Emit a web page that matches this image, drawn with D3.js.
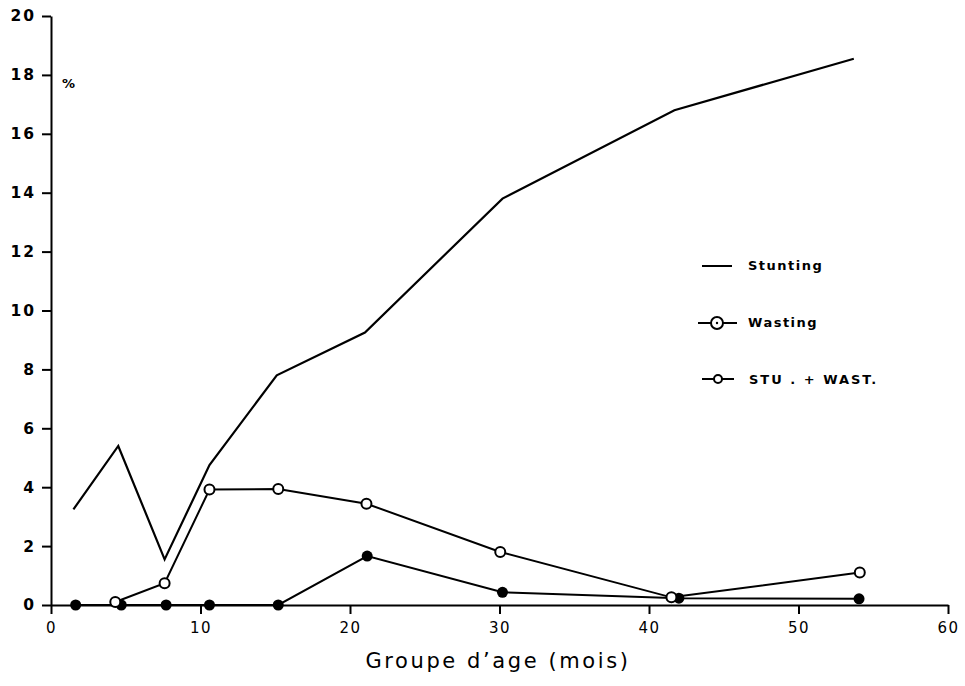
<!DOCTYPE html>
<html>
<head>
<meta charset="utf-8">
<script src="https://cdn.jsdelivr.net/npm/d3@7"></script>
<style>
  html, body { margin: 0; padding: 0; background: #fff; }
  svg { display: block; }
</style>
</head>
<body>
<svg id="chart" width="965" height="686"></svg>
<script>
// ---- data ----
const xTicks = [0, 10, 20, 30, 40, 50, 60];
const yTicks = [0, 2, 4, 6, 8, 10, 12, 14, 16, 18, 20];

const stuntingAge = [1.5, 4.5, 7.6, 10.6, 15.1, 21.0, 30.2, 41.7, 53.7];
const stuntingPct = [3.25, 5.4, 1.55, 4.75, 7.8, 9.25, 13.8, 16.8, 18.55];

const wastingAge = [4.3, 7.6, 10.6, 15.2, 21.1, 30.05, 41.5, 54.1];
const wastingPct = [0.1, 0.74, 3.92, 3.94, 3.44, 1.8, 0.26, 1.1];

const bothAge = [1.65, 4.7, 7.7, 10.6, 15.2, 21.15, 30.2, 42.0, 54.05];
const bothPct = [0, 0, 0, 0, 0, 1.66, 0.43, 0.23, 0.21];

const legendLabels = ["Stunting", "Wasting", "STU . + WAST."];
const xTitle = "Groupe d\u2019age (mois)";
const yUnit = "%";

// ---- drawing ----
const svg = d3.select("#chart");
const x = d3.scaleLinear().domain([0, 60]).range([51, 948]);
const y = d3.scaleLinear().domain([0, 20]).range([605, 16]);

const font = "'DejaVu Sans', 'Liberation Sans', sans-serif";

// X axis
const gx = svg.append("g").attr("transform", `translate(0,${y(0)})`)
  .call(d3.axisBottom(x).tickValues(xTicks).tickSize(9).tickSizeOuter(0).tickPadding(8));
gx.select(".domain").attr("stroke", "#000").attr("stroke-width", 2);
gx.selectAll(".tick line").attr("stroke", "#000").attr("stroke-width", 2);
gx.selectAll(".tick text").attr("font-family", font).attr("font-size", 15)
  .attr("fill", "#000").attr("letter-spacing", 1.5).attr("dy", "0.75em");

// Y axis
const gy = svg.append("g").attr("transform", `translate(${x(0)},0)`)
  .call(d3.axisLeft(y).tickValues(yTicks).tickSize(9).tickSizeOuter(0).tickPadding(6));
gy.select(".domain").attr("stroke", "#000").attr("stroke-width", 2);
gy.selectAll(".tick line").attr("stroke", "#000").attr("stroke-width", 2);
gy.selectAll(".tick text").attr("font-family", font).attr("font-size", 15.5)
  .attr("font-weight", "bold").attr("fill", "#000").attr("letter-spacing", 2);

// % label
svg.append("text").attr("x", 62).attr("y", 88)
  .attr("font-family", font).attr("font-size", 13).attr("font-weight", "bold")
  .text(yUnit);

// X title
svg.append("text").attr("x", 498).attr("y", 668).attr("text-anchor", "middle")
  .attr("font-family", font).attr("font-size", 21).attr("letter-spacing", 2.6)
  .text(xTitle);

const line = d3.line().x(d => x(d[0])).y(d => y(d[1]));
const stunting = stuntingAge.map((a, i) => [a, stuntingPct[i]]);
const wasting = wastingAge.map((a, i) => [a, wastingPct[i]]);
const both = bothAge.map((a, i) => [a, bothPct[i]]);

svg.append("path").datum(stunting).attr("d", line)
  .attr("fill", "none").attr("stroke", "#000").attr("stroke-width", 2.2)
  .attr("stroke-linejoin", "miter");

svg.append("path").datum(both).attr("d", line)
  .attr("fill", "none").attr("stroke", "#000").attr("stroke-width", 2);

svg.append("path").datum(wasting).attr("d", line)
  .attr("fill", "none").attr("stroke", "#000").attr("stroke-width", 2);

svg.selectAll("circle.both").data(both).join("circle").attr("class", "both")
  .attr("cx", d => x(d[0])).attr("cy", d => y(d[1])).attr("r", 5.5).attr("fill", "#000");

svg.selectAll("circle.wast").data(wasting).join("circle").attr("class", "wast")
  .attr("cx", d => x(d[0])).attr("cy", d => y(d[1])).attr("r", 5)
  .attr("fill", "#fff").attr("stroke", "#000").attr("stroke-width", 2);

// Legend
const lg = svg.append("g").attr("font-family", font).attr("font-size", 13)
  .attr("font-weight", "bold").attr("letter-spacing", 1.5);
// Stunting
lg.append("line").attr("x1", 702).attr("x2", 732).attr("y1", 266).attr("y2", 266)
  .attr("stroke", "#000").attr("stroke-width", 2);
lg.append("text").attr("x", 748).attr("y", 270).text(legendLabels[0]);
// Wasting
lg.append("line").attr("x1", 698).attr("x2", 737).attr("y1", 323).attr("y2", 323)
  .attr("stroke", "#000").attr("stroke-width", 2);
lg.append("circle").attr("cx", 717).attr("cy", 323).attr("r", 6)
  .attr("fill", "#fff").attr("stroke", "#000").attr("stroke-width", 2);
lg.append("circle").attr("cx", 717).attr("cy", 323).attr("r", 1.2).attr("fill", "#000");
lg.append("text").attr("x", 748).attr("y", 327).text(legendLabels[1]);
// STU + WAST
lg.append("line").attr("x1", 702).attr("x2", 734).attr("y1", 379).attr("y2", 379)
  .attr("stroke", "#000").attr("stroke-width", 2);
lg.append("circle").attr("cx", 718).attr("cy", 379).attr("r", 4)
  .attr("fill", "#fff").attr("stroke", "#000").attr("stroke-width", 2);
lg.append("text").attr("x", 749).attr("y", 384).attr("letter-spacing", 2).text(legendLabels[2]);
</script>
</body>
</html>
